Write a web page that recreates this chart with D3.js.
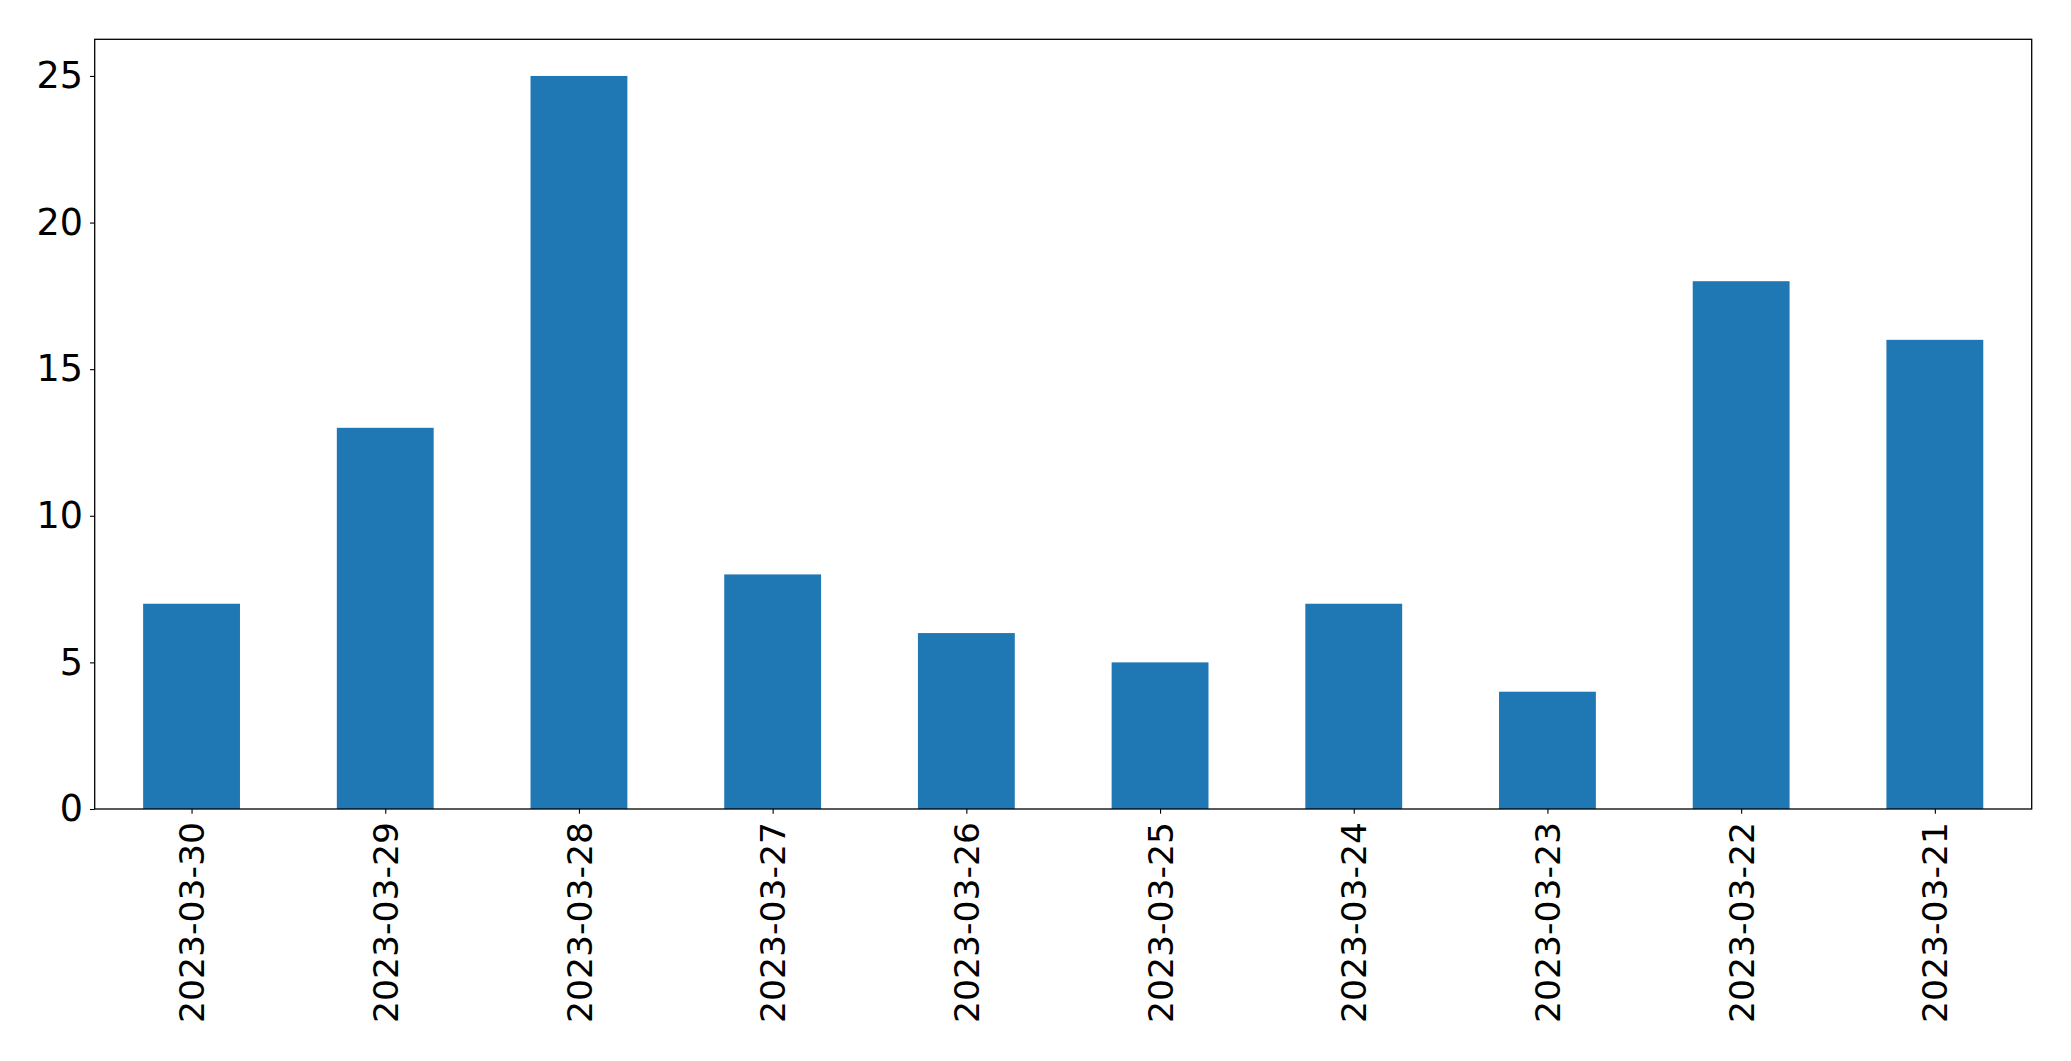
<!DOCTYPE html>
<html><head><meta charset="utf-8">
<script src="https://cdn.jsdelivr.net/npm/d3@7"></script>
<style>body{margin:0;background:#fff}svg{display:block}</style>
</head><body>
<script>
const categories = ["2023-03-30","2023-03-29","2023-03-28","2023-03-27","2023-03-26","2023-03-25","2023-03-24","2023-03-23","2023-03-22","2023-03-21"];
const values = [7,13,25,8,6,5,7,4,18,16];
const yTicks = [0,5,10,15,20,25];

const W=2071,H=1061;
const m={l:94.7,t:39.3,r:2071-2031.7,b:1061-809};
const iw=W-m.l-m.r, ih=H-m.t-m.b;
const svg=d3.select("body").append("svg").attr("width",W).attr("height",H);
const g=svg.append("g").attr("transform",`translate(${m.l},${m.t})`);
const x=d3.scaleLinear().domain([-0.5,categories.length-0.5]).range([0,iw]);
const y=d3.scaleLinear().domain([0,25*1.05]).range([ih,0]);
const font="DejaVu Sans";
g.selectAll("rect.bar").data(values).enter().append("rect")
 .attr("x",(d,i)=>x(i-0.25)).attr("width",x(0.25)-x(-0.25))
 .attr("y",d=>y(d)).attr("height",d=>y(0)-y(d)).attr("fill","#1f77b4");
const ya=g.append("g").call(d3.axisLeft(y).tickValues(yTicks).tickSize(4.7).tickPadding(7).tickFormat(d3.format("d")));
ya.select(".domain").remove();
ya.selectAll("text").attr("font-family",font).attr("font-size",36.5).attr("fill","#000");
ya.selectAll("line").attr("stroke","#000").attr("stroke-width",1.1);
const xa=g.append("g").attr("transform",`translate(0,${ih})`)
 .call(d3.axisBottom(x).tickValues(d3.range(categories.length)).tickSize(4.7).tickFormat(i=>categories[i]));
xa.select(".domain").remove();
xa.selectAll("line").attr("stroke","#000").attr("stroke-width",1.1);
xa.selectAll("text").attr("font-family",font).attr("font-size",34.6).attr("fill","#000")
 .attr("transform","rotate(-90)").attr("text-anchor","end").attr("dy","0.35em").attr("x",-13).attr("y",0);
g.append("rect").attr("width",iw).attr("height",ih).attr("fill","none").attr("stroke","#000").attr("stroke-width",1.3);
</script>
</body></html>
